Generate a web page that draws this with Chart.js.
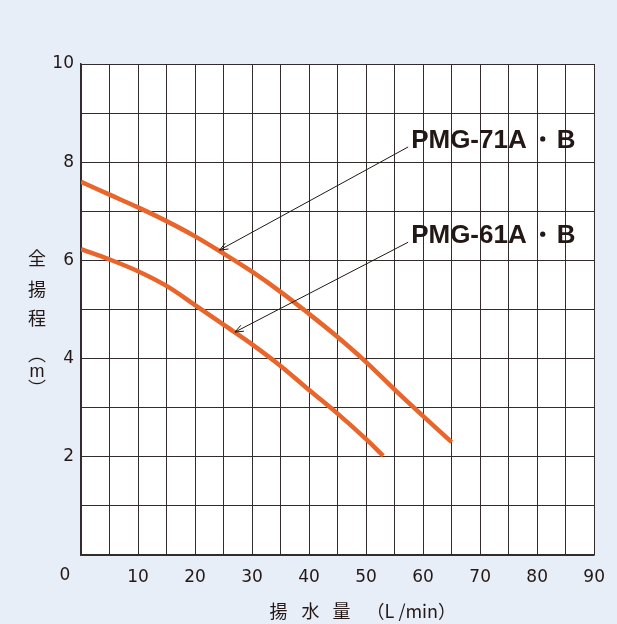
<!DOCTYPE html>
<html><head><meta charset="utf-8">
<script src="https://cdn.jsdelivr.net/npm/chart.js@4/dist/chart.umd.min.js"></script>
<style>html,body{margin:0;padding:0;background:#e7eef8;}canvas{display:block}</style>
</head><body>
<canvas id="c" width="617" height="624"></canvas>
<script>
// ---- data ----
const flowPMG71 = [0,5,10,15,20,25,30,35,40,45,50,55,60,65];
const headPMG71 = [7.60,7.34,7.08,6.80,6.49,6.14,5.77,5.36,4.91,4.44,3.93,3.37,2.83,2.30];
const flowPMG61 = [0,5,10,15,20,25,30,35,40,45,50,53];
const headPMG61 = [6.23,6.02,5.78,5.48,5.09,4.69,4.29,3.85,3.36,2.88,2.36,2.02];
const seriesNames = ['PMG-71A', 'PMG-61A'];
const seriesSuffix = 'B';
const xTickLabels = [10,20,30,40,50,60,70,80,90];
const yTickLabels = [2,4,6,8,10];
const xTitle = ['揚','水','量','（L /min）'];
const yTitle = ['全','揚','程','︵','m','︶'];
// annotation anchors in data units: [label x, label baseline y, arrow tip x, arrow tip y]
const annot71 = [57.9, 8.29, 24.3, 6.21];
const annot61 = [57.9, 6.35, 27.0, 4.54];

const toXY = (xs, ys) => xs.map((x, i) => ({x, y: ys[i]}));
const ORANGE = '#e8662b';
const GRID = '#332c2c';
const TICKFONT = '"DejaVu Sans", sans-serif';

const decorPlugin = {
  id: 'decor',
  beforeDraw(chart) {
    const {ctx, chartArea: a} = chart;
    ctx.save();
    ctx.fillStyle = '#ffffff';
    ctx.fillRect(a.left, a.top, a.right - a.left, a.bottom - a.top);
    ctx.restore();
  },
  afterDraw(chart) {
    const {ctx, chartArea: a, scales: {x, y}} = chart;
    ctx.save();
    ctx.fillStyle = '#231815';
    ctx.strokeStyle = '#231815';
    // origin label
    ctx.font = '17px ' + TICKFONT;
    ctx.textAlign = 'center';
    ctx.textBaseline = 'middle';
    ctx.fillText('0', a.left - 16, a.bottom + 21);
    // annotations
    [[annot71, seriesNames[0]], [annot61, seriesNames[1]]].forEach(([an, name]) => {
      const tx = x.getPixelForValue(an[0]), ty = y.getPixelForValue(an[1]);
      const px = x.getPixelForValue(an[2]), py = y.getPixelForValue(an[3]);
      ctx.font = 'bold 26px "Liberation Sans", Arial, sans-serif';
      ctx.textAlign = 'left';
      ctx.textBaseline = 'alphabetic';
      ctx.fillText(name, tx, ty);
      const w = ctx.measureText(name).width;
      ctx.fillText(seriesSuffix, tx + w + 30, ty);
      ctx.beginPath();
      ctx.arc(tx + w + 16, ty - 9, 2.6, 0, Math.PI * 2);
      ctx.fill();
      // leader line with open arrowhead
      const sx = tx - 3, sy = ty - 1;
      ctx.lineWidth = 1;
      ctx.beginPath();
      ctx.moveTo(sx, sy); ctx.lineTo(px, py); ctx.stroke();
      const ang = Math.atan2(sy - py, sx - px);
      const L = 9, h = 0.38;
      ctx.beginPath();
      ctx.moveTo(px + L * Math.cos(ang + h), py + L * Math.sin(ang + h));
      ctx.lineTo(px, py);
      ctx.lineTo(px + L * Math.cos(ang - h), py + L * Math.sin(ang - h));
      ctx.stroke();
    });
    // x title
    ctx.font = '18px "Noto Sans CJK JP", sans-serif';
    ctx.textAlign = 'center';
    ctx.textBaseline = 'middle';
    const ty0 = a.bottom + 56;
    const xOff = [-59, -27, 4];
    for (let i = 0; i < 3; i++) ctx.fillText(xTitle[i], (a.left + a.right) / 2 + xOff[i], ty0);
    ctx.textAlign = 'left';
    ctx.fillText(xTitle[3], (a.left + a.right) / 2 + 29, ty0);
    // y title (vertical)
    ctx.textAlign = 'center';
    const yPos = [258, 289, 318, 354, 372, 388];
    yTitle.forEach((ch, i) => {
      ctx.font = (ch === 'm' ? '18px "Liberation Sans", sans-serif' : '18px "Noto Sans CJK JP", sans-serif');
      ctx.fillText(ch, 37, yPos[i]);
    });
    ctx.restore();
  }
};

new Chart(document.getElementById('c'), {
  type: 'line',
  data: {
    datasets: [
      {label: seriesNames[0], data: toXY(flowPMG71, headPMG71), borderColor: ORANGE, borderWidth: 4.5, pointRadius: 0, tension: 0.35, fill: false},
      {label: seriesNames[1], data: toXY(flowPMG61, headPMG61), borderColor: ORANGE, borderWidth: 4.5, pointRadius: 0, tension: 0.35, fill: false}
    ]
  },
  options: {
    responsive: false,
    animation: false,
    layout: {padding: {top: 64, right: 20, left: 0, bottom: 0}},
    plugins: {legend: {display: false}, tooltip: {enabled: false}},
    scales: {
      x: {
        type: 'linear', min: 0, max: 90,
        afterFit: s => { s.height = 69; },
        grid: {color: GRID, lineWidth: 1, drawTicks: false},
        border: {display: true, color: GRID, width: 1.5},
        ticks: {
          stepSize: 5, padding: 12, color: '#231815', maxRotation: 0, autoSkip: false,
          font: {family: TICKFONT, size: 17},
          callback: v => xTickLabels.includes(v) ? String(v) : ''
        }
      },
      y: {
        type: 'linear', min: 0, max: 10,
        afterFit: s => { s.width = 81; },
        grid: {color: GRID, lineWidth: 1, drawTicks: false},
        border: {display: true, color: GRID, width: 1.5},
        ticks: {
          stepSize: 1, padding: 7, color: '#231815',
          font: {family: TICKFONT, size: 17},
          callback: v => yTickLabels.includes(v) ? String(v) : ''
        }
      }
    }
  },
  plugins: [decorPlugin]
});
</script>
</body></html>
